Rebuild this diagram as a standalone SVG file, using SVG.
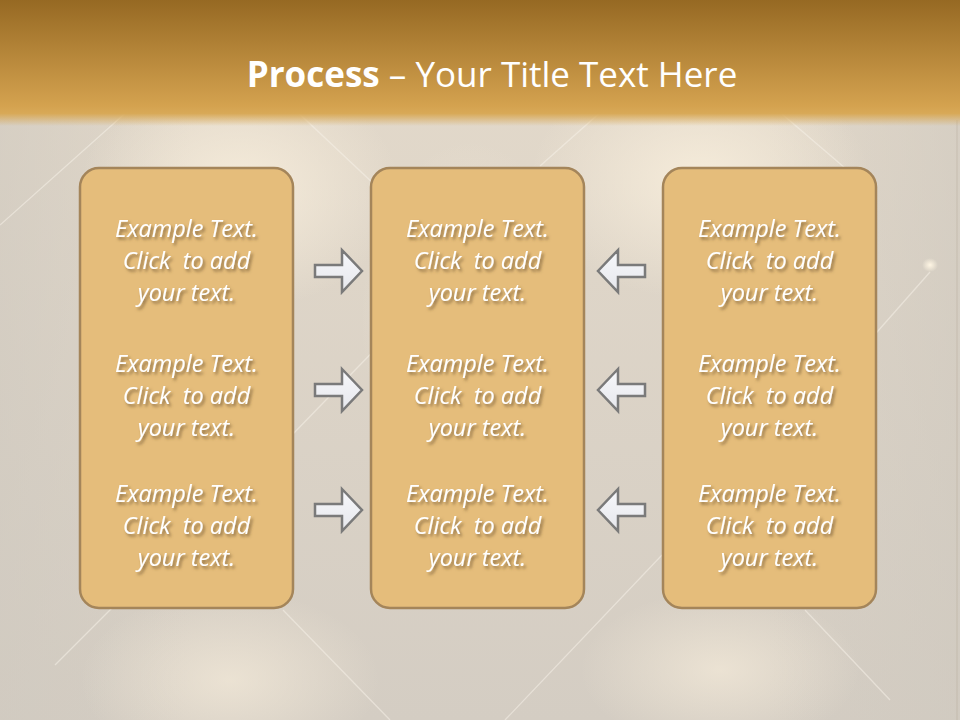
<svg xmlns="http://www.w3.org/2000/svg" width="960" height="720" viewBox="0 0 960 720">
<defs>
<style>
.box{fill:#e5bd7b;stroke:#a4855a;stroke-width:2.5}
.t{font-family:"Open Sans","Liberation Sans",sans-serif;font-style:italic;font-size:23.5px;fill:#ffffff;text-anchor:middle;filter:url(#ts)}
.title{font-family:"Open Sans","Liberation Sans",sans-serif;font-size:35px;fill:#ffffff;text-anchor:middle}
.arr{fill:url(#ag);stroke:#7a7a7a;stroke-width:2.5;stroke-linejoin:miter}
.bl{stroke:#f6f1e8;stroke-width:1.3;fill:none;opacity:0.55}
.bd{stroke:#b8ad9c;stroke-width:1;fill:none;opacity:0.5}
</style>
<linearGradient id="hdr" x1="0" y1="0" x2="0" y2="1">
<stop offset="0" stop-color="#966923"/>
<stop offset="0.84" stop-color="#d4a24f"/>
<stop offset="0.9" stop-color="#d8a957"/>
<stop offset="1" stop-color="#d8a957" stop-opacity="0"/>
</linearGradient>
<linearGradient id="bgg" x1="0" y1="0" x2="0" y2="1">
<stop offset="0" stop-color="#e4dacb"/>
<stop offset="1" stop-color="#d4cdc3"/>
</linearGradient>
<linearGradient id="bgh" x1="0" y1="0" x2="1" y2="0">
<stop offset="0" stop-color="#cfc9bf" stop-opacity="0.6"/>
<stop offset="0.2" stop-color="#cfc9bf" stop-opacity="0"/>
<stop offset="0.8" stop-color="#cfc9bf" stop-opacity="0"/>
<stop offset="1" stop-color="#cfc9bf" stop-opacity="0.6"/>
</linearGradient>
<radialGradient id="glow">
<stop offset="0" stop-color="#f8eedc" stop-opacity="0.9"/>
<stop offset="1" stop-color="#f8eedc" stop-opacity="0"/>
</radialGradient>
<radialGradient id="spot">
<stop offset="0" stop-color="#fff6e4"/>
<stop offset="1" stop-color="#fff6e4" stop-opacity="0"/>
</radialGradient>
<linearGradient id="ag" x1="0" y1="0" x2="0" y2="1">
<stop offset="0" stop-color="#f7f8fb"/>
<stop offset="1" stop-color="#e6e7ec"/>
</linearGradient>
<filter id="ts" x="-10%" y="-30%" width="130%" height="170%">
<feDropShadow dx="2" dy="2.5" stdDeviation="1.5" flood-color="#6e5430" flood-opacity="0.75"/>
</filter>
<path id="ra" d="M-47,-6 H-20 V-21 L0,0 L-20,21 V6 H-47 Z"/>
</defs>

<g id="background">
<rect width="960" height="720" fill="url(#bgg)"/>
<rect width="960" height="720" fill="url(#bgh)"/>
<ellipse cx="240" cy="190" rx="160" ry="120" fill="url(#glow)"/>
<ellipse cx="700" cy="180" rx="170" ry="120" fill="url(#glow)"/>
<ellipse cx="470" cy="320" rx="110" ry="180" fill="url(#glow)" opacity="0.6"/>
<ellipse cx="230" cy="680" rx="150" ry="90" fill="url(#glow)" opacity="0.7"/>
<ellipse cx="720" cy="670" rx="140" ry="80" fill="url(#glow)" opacity="0.7"/>
<ellipse cx="930" cy="265" rx="8" ry="7" fill="url(#spot)"/>
<line class="bl" x1="140" y1="100" x2="0" y2="225"/>
<line class="bl" x1="290" y1="105" x2="375" y2="185"/>
<line class="bl" x1="460" y1="262" x2="290" y2="437"/>
<line class="bl" x1="612" y1="102" x2="540" y2="166"/>
<line class="bl" x1="768" y1="102" x2="845" y2="168"/>
<line class="bl" x1="930" y1="272" x2="870" y2="340"/>
<line class="bl" x1="283" y1="610" x2="390" y2="720"/>
<line class="bl" x1="112" y1="608" x2="55" y2="665"/>
<line class="bl" x1="662" y1="555" x2="505" y2="720"/>
<line class="bl" x1="805" y1="610" x2="890" y2="700"/>
<line class="bd" x1="957" y1="120" x2="957" y2="720"/>
</g>

<g id="header">
<rect x="0" y="0" width="960" height="126" fill="url(#hdr)"/>
<text class="title" x="492" y="87"><tspan font-weight="bold">Process</tspan> – Your Title Text Here</text>
</g>

<g id="box-left">
<rect class="box" x="80" y="168" width="213" height="440" rx="19"/>
<text class="t" xml:space="preserve" x="186.5" y="237">Example Text.</text>
<text class="t" xml:space="preserve" x="186.5" y="269">Click  to add</text>
<text class="t" xml:space="preserve" x="186.5" y="301">your text.</text>
<text class="t" xml:space="preserve" x="186.5" y="372">Example Text.</text>
<text class="t" xml:space="preserve" x="186.5" y="404">Click  to add</text>
<text class="t" xml:space="preserve" x="186.5" y="436">your text.</text>
<text class="t" xml:space="preserve" x="186.5" y="502">Example Text.</text>
<text class="t" xml:space="preserve" x="186.5" y="534">Click  to add</text>
<text class="t" xml:space="preserve" x="186.5" y="566">your text.</text>
</g>

<g id="box-middle">
<rect class="box" x="371" y="168" width="213" height="440" rx="19"/>
<text class="t" xml:space="preserve" x="477.5" y="237">Example Text.</text>
<text class="t" xml:space="preserve" x="477.5" y="269">Click  to add</text>
<text class="t" xml:space="preserve" x="477.5" y="301">your text.</text>
<text class="t" xml:space="preserve" x="477.5" y="372">Example Text.</text>
<text class="t" xml:space="preserve" x="477.5" y="404">Click  to add</text>
<text class="t" xml:space="preserve" x="477.5" y="436">your text.</text>
<text class="t" xml:space="preserve" x="477.5" y="502">Example Text.</text>
<text class="t" xml:space="preserve" x="477.5" y="534">Click  to add</text>
<text class="t" xml:space="preserve" x="477.5" y="566">your text.</text>
</g>

<g id="box-right">
<rect class="box" x="663" y="168" width="213" height="440" rx="19"/>
<text class="t" xml:space="preserve" x="769.5" y="237">Example Text.</text>
<text class="t" xml:space="preserve" x="769.5" y="269">Click  to add</text>
<text class="t" xml:space="preserve" x="769.5" y="301">your text.</text>
<text class="t" xml:space="preserve" x="769.5" y="372">Example Text.</text>
<text class="t" xml:space="preserve" x="769.5" y="404">Click  to add</text>
<text class="t" xml:space="preserve" x="769.5" y="436">your text.</text>
<text class="t" xml:space="preserve" x="769.5" y="502">Example Text.</text>
<text class="t" xml:space="preserve" x="769.5" y="534">Click  to add</text>
<text class="t" xml:space="preserve" x="769.5" y="566">your text.</text>
</g>

<g id="connectors">
<use href="#ra" class="arr" transform="translate(362,271)"/>
<use href="#ra" class="arr" transform="translate(362,390)"/>
<use href="#ra" class="arr" transform="translate(362,510)"/>
<use href="#ra" class="arr" transform="translate(598,271) scale(-1,1)"/>
<use href="#ra" class="arr" transform="translate(598,390) scale(-1,1)"/>
<use href="#ra" class="arr" transform="translate(598,510) scale(-1,1)"/>
</g>
</svg>
